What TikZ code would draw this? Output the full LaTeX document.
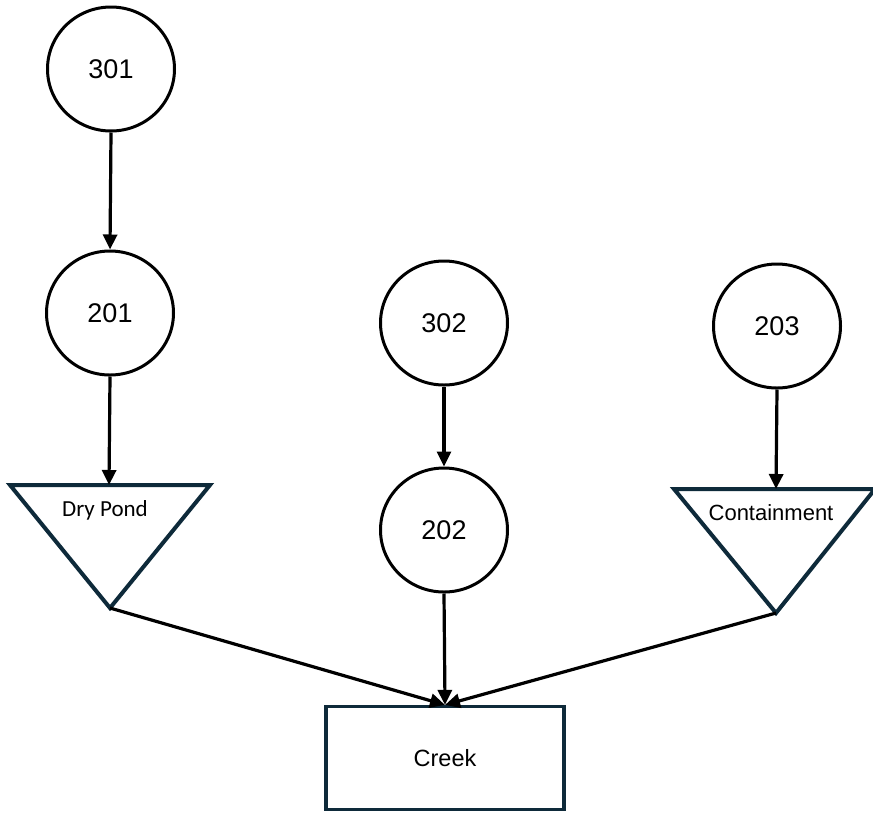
\documentclass[tikz,border=0pt]{standalone}
\usepackage{fontspec}
\setmainfont{Liberation Sans}
\newfontfamily\calfont{Carlito}
\usetikzlibrary{arrows.meta,shapes.geometric}
\definecolor{navy}{HTML}{0E2A3A}
\begin{document}
\begin{tikzpicture}[x=1pt,y=-1pt,
  site/.style={draw=black,line width=3pt,ellipse,minimum width=127pt,minimum height=124pt,inner sep=0pt,font=\fontsize{27}{31}\selectfont},
  flow/.style={draw=black,line width=3.2pt,-{Triangle[length=15pt,width=14pt]}},
  basin/.style={draw=navy,line width=4pt,line join=miter},
  lbl/.style={inner sep=0pt,font=\fontsize{22}{26}\selectfont}]
\useasboundingbox (0,0) rectangle (873,812);
% circles
\node[site] (s301) at (111,69) {301};
\node[site] (s201) at (110,313) {201};
\node[site] (s302) at (444,323) {302};
\node[site] (s202) at (444,530) {202};
\node[site] (s203) at (777,326) {203};
% triangles
\coordinate (dpTop) at (109,485);
\coordinate (dpBot) at (110,608);
\coordinate (ctTop) at (776,489);
\coordinate (ctBot) at (776,613);
\draw[basin] (10,485) -- (210,485) -- (dpBot) -- cycle;
\draw[basin] (674,489) -- (875,489) -- (ctBot) -- cycle;
\node[lbl,font=\calfont\fontsize{23}{27}\selectfont] (dp) at (105,510) {Dry Pond};
\node[lbl] (ct) at (771,513) {Containment};
% creek
\node[draw=navy,line width=3.2pt,minimum width=238pt,minimum height=103pt,inner sep=0pt,font=\fontsize{23.5}{28}\selectfont] (creek) at (445,758) {Creek};
% connectors
\draw[flow] (s301.south) -- (s201.north);
\draw[flow] (s201.south) -- (dpTop);
\draw[flow] (s302.south) -- (s202.north);
\draw[flow] (s203.south) -- (ctTop);
\draw[flow] (dpBot) -- (creek.north);
\draw[flow] (s202.south) -- (creek.north);
\draw[flow] (ctBot) -- (creek.north);
\end{tikzpicture}
\end{document}
